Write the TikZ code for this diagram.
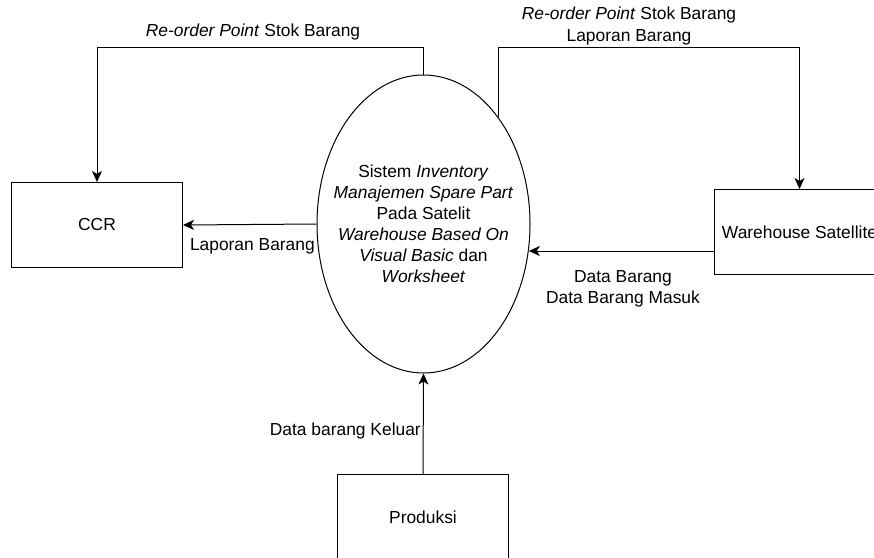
\documentclass[tikz,border=0pt]{standalone}
\usepackage{fontspec}
\setmainfont{Liberation Sans}
\usetikzlibrary{shapes.geometric,arrows.meta}

\begin{document}
\begin{tikzpicture}[x=1pt,y=-1pt,
  every node/.style={font=\fontsize{17.4}{21}\selectfont},
  kotak/.style={draw,line width=1pt,minimum width=171pt,minimum height=85pt,inner sep=0pt},
  proses/.style={draw,ellipse,line width=1pt,minimum width=213pt,minimum height=298pt,inner xsep=-20pt,inner ysep=0pt,align=center},
  lbl/.style={inner sep=0pt,align=center},
  arr/.style={line width=1pt,-{Stealth[length=11pt,width=10pt,inset=3pt]}}]
\useasboundingbox (0,0) rectangle (874,557);
\node[proses] (sistem) at (423.5,224) {Sistem \textit{Inventory}\\ \textit{Manajemen Spare Part}\\ Pada Satelit\\ \textit{Warehouse Based On}\\ \textit{Visual Basic} dan\\ \textit{Worksheet}};
\node[kotak] (ccr) at (97,225) {CCR};
\node[kotak] (gudang) at (799.5,232) {Warehouse Satellite};
\node[kotak] (produksi) at (423,517) {Produksi};
\coordinate (atas) at (0,47);
\coordinate (masuk) at ([yshift=-19pt]gudang.west);
\draw[arr] (sistem.north) -- (sistem.north |- atas) -| (ccr.north);
\draw[arr] (sistem.55) -- (sistem.55 |- atas) -| (gudang.north);
\draw[arr] (sistem.west) -- (ccr.east);
\draw[arr] (masuk) -- (sistem.-14.6 |- masuk);
\draw[arr] (produksi.north) -- (sistem.south);
\node[lbl] (rop1) at (253,32) {\textit{Re-order Point} Stok Barang};
\node[lbl] (rop2) at (629,26) {\textit{Re-order Point} Stok Barang\\ Laporan Barang};
\node[lbl,anchor=east] (lapor) at (315,246) {Laporan Barang};
\node[lbl] (data) at (623,289) {Data Barang\\ Data Barang Masuk};
\node[lbl,anchor=east] (keluar) at (421,431) {Data barang Keluar};
\end{tikzpicture}
\end{document}
